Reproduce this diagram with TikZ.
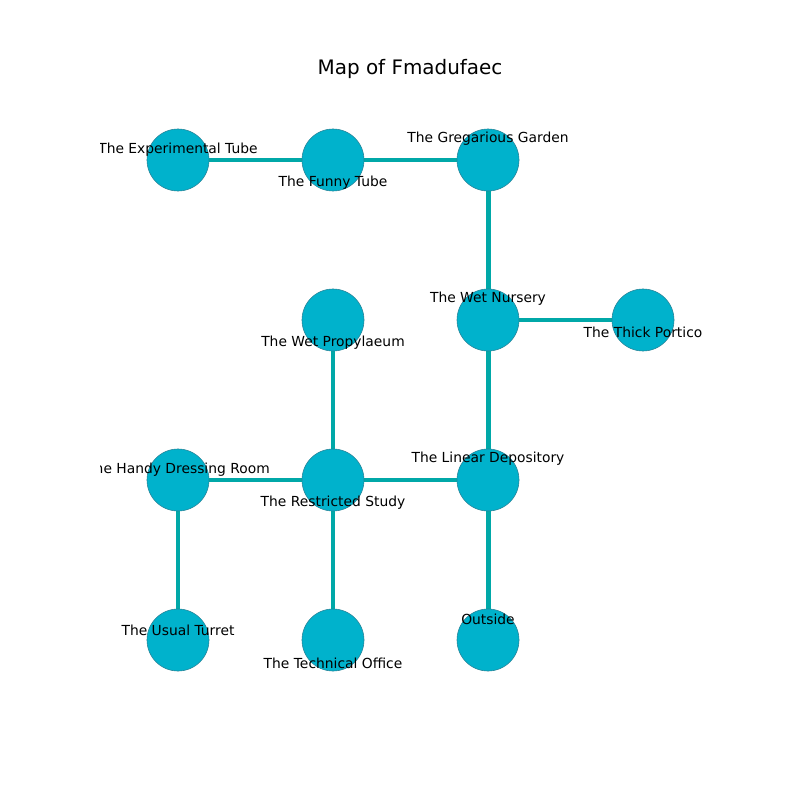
\documentclass[tikz,border=0pt]{standalone}
\usepackage{fontspec}
\setmainfont{DejaVu Sans}
\definecolor{nodefill}{RGB}{0,178,204}
\definecolor{nodeedge}{RGB}{40,130,150}
\definecolor{edgecol}{RGB}{0,168,168}
\begin{document}
\begin{tikzpicture}[x=0.01in,y=-0.01in,
  room/.style={circle,fill=nodefill,draw=nodeedge,line width=0.4pt,minimum size=0.62in,inner sep=0pt},
  link/.style={draw=edgecol,line width=3.6pt},
  lbl/.style={font=\fontsize{10}{12}\selectfont,inner sep=0pt,anchor=center}]
\useasboundingbox (0,0) rectangle (800,800);
\fill[white] (0,0) rectangle (800,800);
\node[font=\fontsize{14.4}{16}\selectfont] (title) at (410,69) {Map of Fmadufaec};
% node coordinates
\coordinate (et) at (178,160);
\coordinate (ft) at (333,160);
\coordinate (gg) at (488,160);
\coordinate (wp) at (333,320);
\coordinate (wn) at (488,320);
\coordinate (tp) at (643,320);
\coordinate (hd) at (178,480);
\coordinate (rs) at (333,480);
\coordinate (ld) at (488,480);
\coordinate (ut) at (178,640);
\coordinate (to) at (333,640);
\coordinate (out) at (488,640);
% edges
\draw[link] (et) -- (ft);
\draw[link] (ft) -- (gg);
\draw[link] (gg) -- (wn);
\draw[link] (wn) -- (tp);
\draw[link] (wn) -- (ld);
\draw[link] (wp) -- (rs);
\draw[link] (hd) -- (rs);
\draw[link] (rs) -- (ld);
\draw[link] (hd) -- (ut);
\draw[link] (rs) -- (to);
\draw[link] (ld) -- (out);
% nodes
\node[room] (n-et) at (et) {};
\node[room] (n-ft) at (ft) {};
\node[room] (n-gg) at (gg) {};
\node[room] (n-wp) at (wp) {};
\node[room] (n-wn) at (wn) {};
\node[room] (n-tp) at (tp) {};
\node[room] (n-hd) at (hd) {};
\node[room] (n-rs) at (rs) {};
\node[room] (n-ld) at (ld) {};
\node[room] (n-ut) at (ut) {};
\node[room] (n-to) at (to) {};
\node[room] (n-out) at (out) {};
% labels
\begin{scope}
\clip (100,96) rectangle (720,712);
\node[lbl] (l-et) at (178,150) {The Experimental Tube};
\node[lbl] (l-ft) at (333,183) {The Funny Tube};
\node[lbl] (l-gg) at (488,139) {The Gregarious Garden};
\node[lbl] (l-wn) at (488,299) {The Wet Nursery};
\node[lbl] (l-tp) at (643,332) {The Thick Portico};
\node[lbl] (l-wp) at (333,343) {The Wet Propylaeum};
\node[lbl] (l-hd) at (178,470) {The Handy Dressing Room};
\node[lbl] (l-rs) at (333,503) {The Restricted Study};
\node[lbl] (l-ld) at (488,459) {The Linear Depository};
\node[lbl] (l-ut) at (178,630) {The Usual Turret};
\node[lbl] (l-to) at (333,663) {The Technical Office};
\node[lbl] (l-out) at (488,619) {Outside};
\end{scope}
\end{tikzpicture}
\end{document}
